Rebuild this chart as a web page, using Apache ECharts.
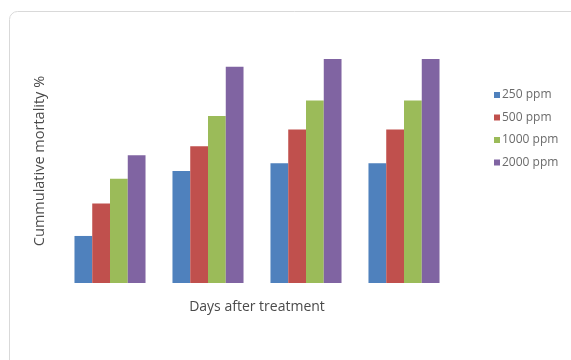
<!DOCTYPE html>
<html>
<head>
<meta charset="utf-8">
<script src="https://cdn.jsdelivr.net/npm/echarts@6/dist/echarts.min.js"></script>
<style>html,body{margin:0;padding:0;background:#fff;}#c{width:571px;height:360px;}</style>
</head>
<body>
<div id="c"></div>
<script>
const categories = ['Day 1', 'Day 2', 'Day 3', 'Day 4'];
const seriesNames = ['250 ppm', '500 ppm', '1000 ppm', '2000 ppm'];
const v250 = [21, 50, 53.5, 53.5];
const v500 = [35.5, 61, 68.5, 68.5];
const v1000 = [46.5, 74.5, 81.5, 81.5];
const v2000 = [57, 96.5, 100, 100];
const yTitle = 'Cummulative mortality %';
const xTitle = 'Days after treatment';

const colors = ['#4F81BD', '#C0504D', '#9BBB59', '#8064A2'];
const values = [v250, v500, v1000, v2000];
const font = 'Open Sans';

const chart = echarts.init(document.getElementById('c'), null, {renderer: 'canvas'});
chart.setOption({
  animation: false,
  color: colors,
  grid: {left: 61, right: 118, top: 59, bottom: 77, containLabel: false},
  legend: {
    orient: 'vertical', left: 489, top: 84,
    itemWidth: 6, itemHeight: 6, itemGap: 10.5,
    icon: 'rect',
    textStyle: {fontFamily: font, fontSize: 12, color: '#6b6b6b', padding: [0, 0, 0, -3]},
    data: seriesNames
  },
  xAxis: {
    type: 'category', data: categories,
    name: xTitle, nameLocation: 'middle', nameGap: 17,
    nameTextStyle: {fontFamily: font, fontSize: 14, color: '#4a4a4a'},
    axisLine: {show: false}, axisTick: {show: false}, axisLabel: {show: false}
  },
  yAxis: {
    type: 'value', min: 0, max: 100,
    name: yTitle, nameLocation: 'middle', nameGap: 14, nameRotate: 90,
    nameTextStyle: {fontFamily: font, fontSize: 14.5, color: '#4a4a4a', padding: [0, 0, 0, 20]},
    axisLine: {show: false}, axisTick: {show: false}, axisLabel: {show: false},
    splitLine: {show: false}
  },
  series: seriesNames.map((n, i) => ({
    name: n, type: 'bar', data: values[i],
    barGap: '0%', barCategoryGap: '27.5%',
    itemStyle: {color: colors[i]}
  })),
  graphic: [{
    type: 'rect', silent: true, z: -1,
    shape: {x: 9.5, y: 11.5, width: 575, height: 365, r: 8},
    style: {fill: 'none', stroke: '#d9d9d9', lineWidth: 1}
  }]
});
</script>
</body>
</html>
